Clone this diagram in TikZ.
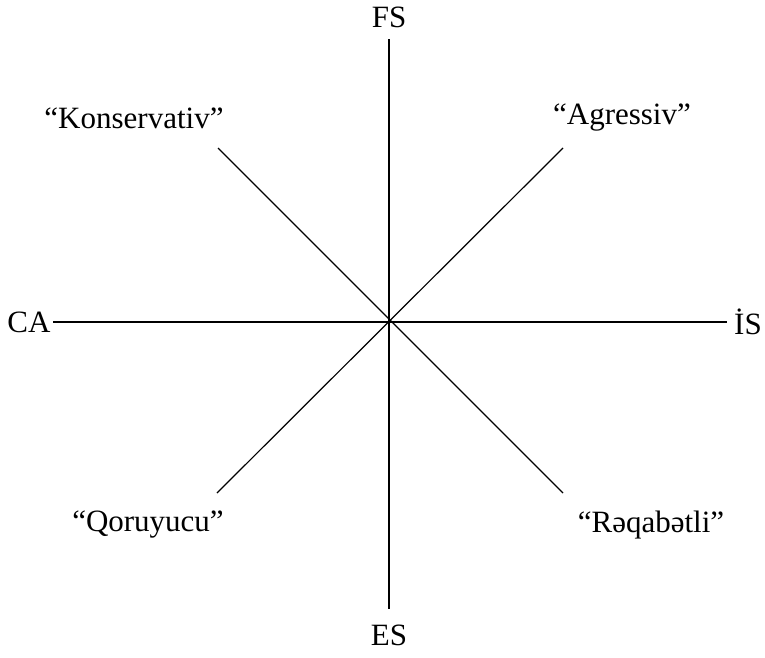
\documentclass[tikz,border=0pt]{standalone}
\usepackage{fontspec}
\setmainfont{Liberation Serif}
\usetikzlibrary{positioning,calc}

\begin{document}
\begin{tikzpicture}[x=1pt,y=-1pt,
    axis/.style={line width=1.2pt},
    lbl/.style={font=\fontsize{31}{34}\selectfont, inner sep=0pt, anchor=center}]
    % frame of the picture
    \useasboundingbox (0,0) rectangle (765,657);

    % centre and end points of the axes
    \coordinate (o) at (389,322);
    \coordinate (n) at (389,39);
    \coordinate (s) at (389,609);
    \coordinate (w) at (53,322);
    \coordinate (e) at (727,322);
    \coordinate (ne) at (563,148);
    \coordinate (nw) at (218,148);
    \coordinate (sw) at (217,493);
    \coordinate (se) at (563,493);

    % axes
    \draw[axis] (n) -- (s);
    \draw[axis] (w) -- (e);
    \draw[axis] (nw) -- (se);
    \draw[axis] (sw) -- (ne);

    % labels
    \node[lbl] (fs) at (389,17) {FS};
    \node[lbl] (es) at (389,635) {ES};
    \node[lbl] (ca) at (29,322) {CA};
    \node[lbl] (is) at (748,322) {İS};
    \node[lbl] (kons) at (134,118) {“Konservativ”};
    \node[lbl] (agr) at (622,118) {“Agressiv”};
    \node[lbl] (qor) at (148,525) {“Qoruyucu”};
    \node[lbl] (reqa) at (651,525) {“Rəqabətli”};
\end{tikzpicture}
\end{document}
